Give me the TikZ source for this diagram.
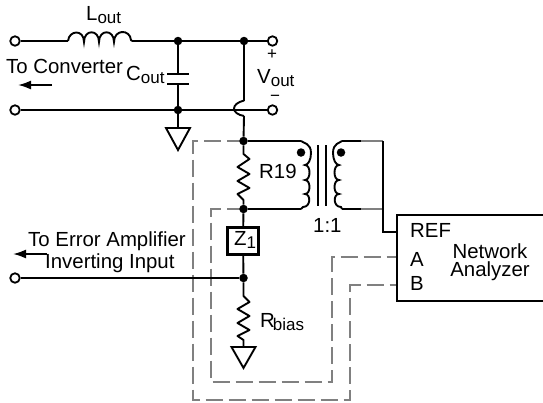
\documentclass[tikz,border=0pt]{standalone}
\usepackage{fontspec}
\setmainfont{Liberation Sans}
\usetikzlibrary{arrows.meta}
\newcommand{\bigtxt}{\fontsize{20.4}{18}\selectfont}
\newcommand{\subtxt}[1]{\smash{\raisebox{-3.5pt}{\fontsize{17}{17}\selectfont #1}}}
\tikzset{
  wire/.style={line width=1.9pt,draw=black,line join=miter},
  gwire/.style={line width=1.7pt,draw=black!50},
  gdash/.style={gwire,dash pattern=on 17pt off 6pt},
  term/.style={circle,draw=black,fill=white,line width=1.8pt,minimum size=9.5pt,inner sep=0pt},
  dotnode/.style={circle,fill=black,minimum size=8.5pt,inner sep=0pt},
  txt/.style={anchor=base west,inner sep=0pt,font=\bigtxt},
  flow/.style={wire,-{Latex[length=13pt,width=9pt]}},
  gnd/.style={wire,line join=miter,fill=white},
}
\begin{document}
\begin{tikzpicture}[x=1pt,y=-1pt]
\useasboundingbox (0,0) rectangle (543,402);
% gray dashed leads (under the junction dots)
\coordinate (jdc) at (243.5,141);
\coordinate (jec) at (243.5,209);
\coordinate (ia) at (397,257);
\coordinate (ib) at (397,285);
\draw[gdash] (jdc) -- (193,141) -- (193,400) -- (350,400) -- (350,285) -- (ib);
\draw[gdash] (jec) -- (211,209) -- (211,382) -- (332,382) -- (332,257) -- (ia);
% junctions
\node[dotnode] (ja) at (178,41) {};
\node[dotnode] (jb) at (244,41) {};
\node[dotnode] (jc) at (178,110) {};
\node[dotnode] (jd) at (jdc) {};
\node[dotnode] (je) at (jec) {};
\node[dotnode] (jf) at (243.5,278) {};
\node[term] (t1) at (15,41) {};
\node[term] (t2) at (272.5,41) {};
\node[term] (t3) at (15,110) {};
\node[term] (t4) at (272.5,110) {};
\node[term] (t5) at (15,278) {};
\node[draw=black,line width=2.6pt,minimum width=31pt,minimum height=27pt,inner sep=0pt] (z) at (243,241) {};
% coordinates
\coordinate (la) at (68,41);
\coordinate (lb) at (132,41);
\coordinate (bt) at (244,100.5);
\coordinate (bb) at (244,116);
\coordinate (ca) at (178,74);
\coordinate (cb) at (178,84);
\coordinate (ga) at (178,128);
\coordinate (gb) at (243.5,347);
\coordinate (pa) at (301,141);
\coordinate (pb) at (301,209);
\coordinate (sa) at (342,141);
\coordinate (sb) at (342,209);
\coordinate (sc) at (361,141);
\coordinate (sd) at (361,209);
\coordinate (se) at (383,141);
\coordinate (sf) at (383,209);
\coordinate (ref) at (397,232);
% rails
\draw[wire] (t1) -- (la);
\draw[wire] (la) .. controls (69,30) and (84,29) .. (84,42)
   .. controls (84,29) and (99,29) .. (99,42)
   .. controls (99,29) and (114,29) .. (114,42)
   .. controls (114,29) and (130,29) .. (131,40) -- (lb);
\draw[wire] (lb) -- (ja) -- (jb) -- (t2);
\draw[wire] (t3) -- (jc) -- (t4);
\draw[wire] (ja) -- (ca);
\draw[wire] (cb) -- (jc);
\draw[wire] (167,74) -- (189,74);
\draw[wire] (167,84) -- (189,84);
\draw[gnd] (jc) -- (ga);
\draw[gnd] (166,128) -- (190,128) -- (178,150) -- cycle;
% jump
\draw[wire] (jb) -- (bt);
\draw[wire] (bt) .. controls (238,102) and (234,105) .. (234,108.5) .. controls (234,112) and (238,115) .. (bb);
\draw[wire] (bb) -- (jd);
% R19
\draw[wire,line join=round] (jd) -- (243.5,154) -- (249.5,159) -- (237.5,167) -- (249.5,174) -- (237.5,181) -- (249.5,188) -- (237.5,194) -- (243.5,200) -- (je);
% primary
\draw[wire] (jd) -- (pa);
\draw[wire] (je) -- (pb);
\draw[wire] (pa) .. controls (303,143) and (311,143) .. (311,153) .. controls (311,160) and (308,165) .. (305,165)
   .. controls (311,165) and (311,180) .. (305,180)
   .. controls (311,180) and (311,194) .. (305,194)
   .. controls (311,194) and (311,207) .. (303,207) -- (pb);
\node[dotnode] (dp) at (301,152.5) {};
% core
\coordinate (k1a) at (318,145);\coordinate (k1b) at (318,206);
\coordinate (k2a) at (326,145);\coordinate (k2b) at (326,206);
\draw[wire] (k1a) -- (k1b);
\draw[wire] (k2a) -- (k2b);
% secondary
\draw[wire] (sa) .. controls (340,143) and (333,143) .. (333,153) .. controls (333,160) and (336,165) .. (339,165)
   .. controls (333,165) and (333,180) .. (339,180)
   .. controls (333,180) and (333,194) .. (339,194)
   .. controls (333,194) and (333,207) .. (341,207) -- (sb);
\node[dotnode] (ds) at (341,152.5) {};
\draw[wire] (sa) -- (sc);
\draw[wire] (sb) -- (sd);
\draw[gwire] (sc) -- (se);
\draw[gwire] (sd) -- (sf);
\draw[wire] (se) -- (sf) -- (383,232) -- (ref);
% Z1 chain
\draw[wire] (je) -- (z);
\draw[wire] (z) -- (jf);
\draw[wire] (t5) -- (jf);
\draw[wire,line join=round] (jf) -- (243.5,296) -- (249.5,302) -- (237.5,309) -- (249.5,316) -- (237.5,323) -- (249.5,330) -- (237.5,336) -- (243.5,340) -- (gb);
\draw[gnd] (231.5,347) -- (255.5,347) -- (243.5,368) -- cycle;
% analyzer box
\draw[wire] (543,215) -- (397,215) -- (397,301) -- (543,301);
% arrows
\coordinate (a1) at (52,85);\coordinate (a2) at (18,85);
\draw[flow] (a1) -- (a2);
\coordinate (a3) at (47,254);\coordinate (a4) at (13,254);
\draw[flow] (a3) -- (a4);
% labels
\node[txt] (lout) at (86,20) {L\subtxt{out}};
\node[txt] (conv) at (6,73) {To Converter};
\node[txt] (cout) at (126,80) {C\subtxt{out}};
\node[txt] (vout) at (257,83) {V\subtxt{out}};
\node[font=\fontsize{17}{17}\selectfont,inner sep=0pt] (plus) at (272,55) {+};
\node[font=\fontsize{17}{17}\selectfont,inner sep=0pt] (minus) at (275,98) {−};
\node[txt] (r19) at (259,178) {R19};
\node[txt] (ratio) at (313,232) {1:1};
\node[txt] (zl) at (234,245) {Z\subtxt{1}};
\node[txt] (err1) at (28,246) {To Error Amplifier};
\node[txt] (err2) at (45,268) {Inverting Input};
\node[txt] (rb) at (260,327) {R\kern-2pt\subtxt{bias}};
\node[txt] (tref) at (410,237) {REF};
\node[txt] (ta) at (410,266) {A};
\node[txt] (tb) at (410,290) {B};
\node[inner sep=0pt,font=\bigtxt,align=center] (na) at (490,262.5) {Network\\Analyzer};
\end{tikzpicture}
\end{document}
